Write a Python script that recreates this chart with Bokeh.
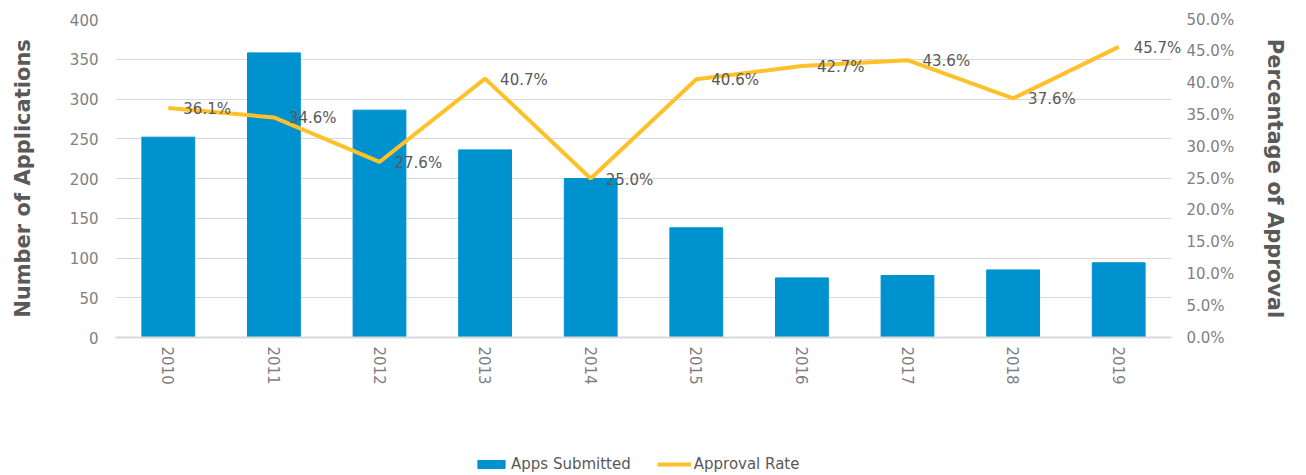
from bokeh.plotting import figure
from bokeh.layouts import column
from bokeh.models import (ColumnDataSource, LinearAxis, Range1d, FactorRange, FixedTicker,
                          NumeralTickFormatter, Legend, LegendItem)
from bokeh.embed import file_html
from bokeh.resources import INLINE
from bokeh.core.properties import value

years = ["2010", "2011", "2012", "2013", "2014", "2015", "2016", "2017", "2018", "2019"]
apps_submitted = [252, 358, 286, 236, 200, 138, 75, 78, 85, 94]
approval_rate = [36.1, 34.6, 27.6, 40.7, 25.0, 40.6, 42.7, 43.6, 37.6, 45.7]
left_ticks = [0, 50, 100, 150, 200, 250, 300, 350, 400]
right_ticks = [0.0, 0.05, 0.10, 0.15, 0.20, 0.25, 0.30, 0.35, 0.40, 0.45, 0.50]
legend_labels = ["Apps Submitted", "Approval Rate"]

rate_frac = [r / 100 for r in approval_rate]
rate_labels = [f"{r:.1f}%" for r in approval_rate]

src = ColumnDataSource(dict(year=years, apps=apps_submitted, rate=rate_frac, label=rate_labels))

FONT = "DejaVu Sans"
TICK_COLOR = "#7F7F7F"
TEXT_COLOR = "#595959"
GRID_COLOR = "#D9D9D9"
BAR_COLOR = "#0092CF"
LINE_COLOR = "#FFC12A"

p = figure(width=1290, height=420, x_range=FactorRange(factors=years), y_range=Range1d(0, 400),
           output_backend="svg", toolbar_location=None,
           min_border_left=115, min_border_right=113, min_border_top=19, min_border_bottom=83,
           outline_line_color=None)
p.extra_y_ranges = {"pct": Range1d(0, 0.5)}

bars = p.vbar(x="year", top="apps", width=0.5, source=src, fill_color=BAR_COLOR, line_color=BAR_COLOR)
line = p.line(x="year", y="rate", y_range_name="pct", source=src, line_color=LINE_COLOR, line_width=4)
p.text(x="year", y="rate", text="label", y_range_name="pct", source=src, x_offset=15, y_offset=1,
       text_baseline="middle", text_align="left", text_font=value(FONT), text_font_size="15px",
       text_color=TEXT_COLOR, level="overlay")

# grid
p.xgrid.grid_line_color = None
p.ygrid.grid_line_color = GRID_COLOR
p.ygrid.ticker = FixedTicker(ticks=left_ticks)

# left axis
ya = p.yaxis[0]
ya.ticker = FixedTicker(ticks=left_ticks)
ya.axis_label = "Number of Applications"
ya.axis_label_text_font = FONT
ya.axis_label_text_font_style = "bold"
ya.axis_label_text_font_size = "21px"
ya.axis_label_text_color = TEXT_COLOR
ya.axis_label_standoff = 32
ya.axis_line_color = None
ya.major_tick_line_color = None
ya.minor_tick_line_color = None
ya.major_label_standoff = 11
ya.major_label_text_font = FONT
ya.major_label_text_font_size = "15px"
ya.major_label_text_color = TICK_COLOR

# right axis
ra = LinearAxis(y_range_name="pct", ticker=FixedTicker(ticks=right_ticks),
                formatter=NumeralTickFormatter(format="0.0%"),
                axis_label="Percentage of Approval")
ra.axis_label_text_font = FONT
ra.axis_label_text_font_style = "bold"
ra.axis_label_text_font_size = "21px"
ra.axis_label_text_color = TEXT_COLOR
ra.axis_label_standoff = 26
ra.axis_line_color = None
ra.major_tick_line_color = None
ra.minor_tick_line_color = None
ra.major_label_standoff = 9
ra.major_label_text_font = FONT
ra.major_label_text_font_size = "15px"
ra.major_label_text_color = TICK_COLOR
p.add_layout(ra, "right")

# x axis
xa = p.xaxis[0]
xa.axis_line_color = GRID_COLOR
xa.axis_line_width = 2
xa.major_tick_line_color = None
xa.minor_tick_line_color = None
xa.major_label_orientation = "vertical"
xa.major_label_standoff = 3
xa.major_label_text_font = FONT
xa.major_label_text_font_size = "15px"
xa.major_label_text_color = TICK_COLOR

# legend strip below the chart (its series are drawn out of view; only the legend shows)
lg = figure(width=1290, height=53, x_range=FactorRange(factors=years), y_range=Range1d(1000, 1001),
            output_backend="svg", toolbar_location=None, outline_line_color=None,
            min_border_left=0, min_border_right=0, min_border_top=0, min_border_bottom=0,
            x_axis_type=None, y_axis_type=None)
lg.xgrid.visible = False
lg.ygrid.visible = False
sw_bar = lg.vbar(x="year", top="apps", width=0.5, source=src, fill_color=BAR_COLOR, line_color=BAR_COLOR)
sw_line = lg.line(x="year", y="rate", source=src, line_color=LINE_COLOR, line_width=4)
legend = Legend(items=[LegendItem(label=legend_labels[0], renderers=[sw_bar]),
                       LegendItem(label=legend_labels[1], renderers=[sw_line])],
                orientation="horizontal", location=(359, 0),
                border_line_color=None, background_fill_alpha=0,
                margin=0, padding=0, spacing=26, glyph_width=34, glyph_height=10,
                label_standoff=3, label_text_font=FONT, label_text_font_size="15px",
                label_text_color=TEXT_COLOR)
lg.add_layout(legend, "center")

layout = column(p, lg, spacing=0)
open("out.html", "w").write(file_html(layout, INLINE))
